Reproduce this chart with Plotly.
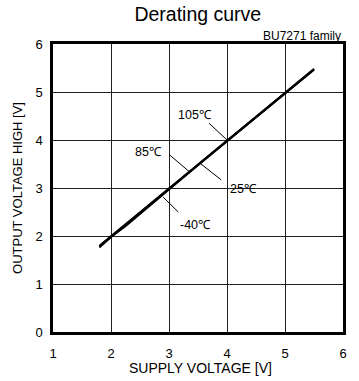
import plotly.graph_objects as go

# Output voltage high vs. supply voltage, one series per ambient temperature
supply_v = [1.8, 1.9, 2.0, 2.25, 2.5, 2.75, 3.0, 3.25, 3.5, 3.75, 4.0, 4.25, 4.5, 4.75, 5.0, 5.25, 5.5]
vout_m40 = [1.76, 1.86, 1.98, 2.2, 2.46, 2.72, 2.98, 3.23, 3.48, 3.73, 3.98, 4.23, 4.47, 4.72, 4.97, 5.22, 5.46]
vout_25 = [1.78, 1.88, 1.99, 2.22, 2.47, 2.73, 2.99, 3.24, 3.49, 3.74, 3.99, 4.24, 4.48, 4.73, 4.98, 5.23, 5.47]
vout_85 = [1.79, 1.89, 2.0, 2.23, 2.48, 2.74, 3.0, 3.25, 3.5, 3.75, 4.0, 4.25, 4.49, 4.74, 4.99, 5.24, 5.48]
vout_105 = [1.8, 1.9, 2.0, 2.24, 2.49, 2.75, 3.0, 3.25, 3.5, 3.75, 4.0, 4.25, 4.5, 4.75, 5.0, 5.25, 5.48]

series_names = ["-40℃", "25℃", "85℃", "105℃"]
series_values = [vout_m40, vout_25, vout_85, vout_105]

# Temperature labels: text position and leader line (start -> end on the curve)
label_text = ["105℃", "85℃", "25℃", "-40℃"]
label_pos = [(3.45, 4.52), (2.64, 3.75), (4.28, 2.98), (3.45, 2.23)]
leader_from = [(3.69, 4.35), (3.0, 3.7), (3.53, 3.52), (2.9, 2.81)]
leader_to = [(4.0, 4.0), (3.36, 3.33), (3.9, 3.17), (3.16, 2.5)]

x_ticks = [1, 2, 3, 4, 5, 6]
y_ticks = [0, 1, 2, 3, 4, 5, 6]

FONT = "Liberation Sans, Arial, sans-serif"

fig = go.Figure()
for name, vals in zip(series_names, series_values):
    fig.add_trace(go.Scatter(
        x=supply_v, y=vals, mode="lines", name=name,
        line=dict(color="black", width=1.8), showlegend=False,
        hoverinfo="skip",
    ))

for (x0, y0), (x1, y1) in zip(leader_from, leader_to):
    fig.add_shape(type="line", x0=x0, y0=y0, x1=x1, y1=y1,
                  xref="x", yref="y", line=dict(color="black", width=1))

for txt, (x, y) in zip(label_text, label_pos):
    fig.add_annotation(x=x, y=y, text=txt, showarrow=False,
                       font=dict(family=FONT, size=12.5, color="black"))

fig.add_annotation(x=1, y=1, xref="paper", yref="paper", text="BU7271 family",
                   showarrow=False, xanchor="right", yanchor="bottom", yshift=-1,
                   font=dict(family=FONT, size=12, color="black"))

fig.add_annotation(x=0.51, y=0, xref="paper", yref="paper", text="SUPPLY VOLTAGE [V]",
                   showarrow=False, xanchor="center", yanchor="middle", yshift=-36,
                   font=dict(family=FONT, size=14, color="black"))

fig.update_layout(
    width=359, height=381,
    margin=dict(l=53, r=16, t=44, b=49),
    paper_bgcolor="white", plot_bgcolor="white",
    font=dict(family=FONT, color="black"),
    title=dict(text="Derating curve", x=0.551, xanchor="center", y=0.963, yanchor="middle",
               font=dict(family=FONT, size=19.5, color="black")),
)
fig.update_xaxes(
    range=[1, 6], tickvals=x_ticks, ticks="", showgrid=True,
    gridcolor="#222", gridwidth=1, showline=True, linecolor="black", linewidth=2.5,
    mirror=True, zeroline=False, tickfont=dict(family=FONT, size=13, color="black"),
    ticklabelstandoff=8,
)
fig.update_yaxes(
    range=[0, 6], tickvals=y_ticks, ticks="", showgrid=True,
    gridcolor="#222", gridwidth=1, showline=True, linecolor="black", linewidth=2.5,
    mirror=True, zeroline=False, tickfont=dict(family=FONT, size=13, color="black"),
    ticklabelstandoff=5,
    title=dict(text="OUTPUT VOLTAGE HIGH [V]", font=dict(family=FONT, size=13, color="black"),
               standoff=10),
)

fig.write_html("out.html")
